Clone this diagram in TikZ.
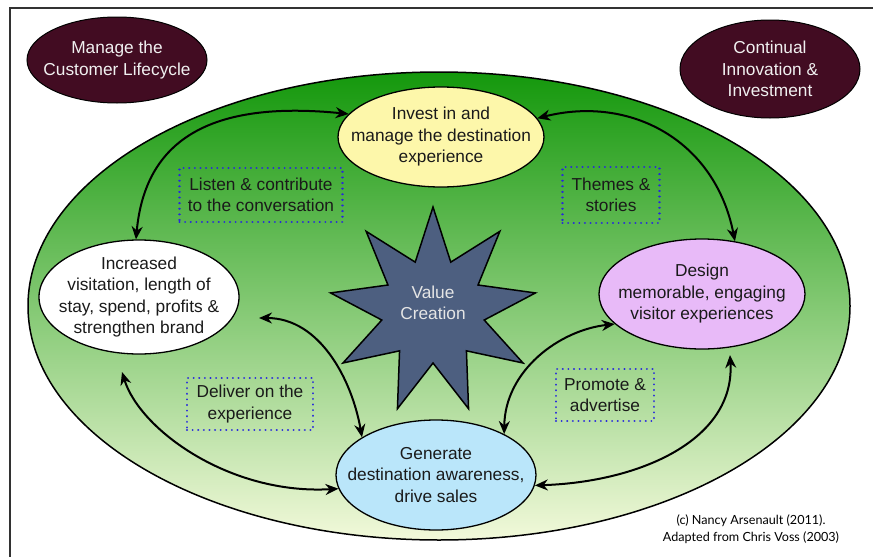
\documentclass[tikz,border=0pt]{standalone}
\usepackage{fontspec}
\setmainfont{Liberation Sans}
\newfontfamily\gillfont{Lato}
\usetikzlibrary{shapes.geometric,arrows.meta}
\definecolor{maroonc}{RGB}{66,12,34}
\definecolor{yellowc}{RGB}{253,247,170}
\definecolor{pinkc}{RGB}{232,186,248}
\definecolor{bluec}{RGB}{186,230,250}
\definecolor{starc}{RGB}{77,95,128}
\definecolor{greentop}{RGB}{20,152,12}
\definecolor{greenmid}{RGB}{125,203,95}
\definecolor{greenbot}{RGB}{242,249,218}
\definecolor{textc}{RGB}{26,26,26}
\definecolor{dotc}{RGB}{40,40,220}
\definecolor{framec}{RGB}{50,50,50}
\begin{document}
\begin{tikzpicture}[x=1pt,y=-1pt,
  font=\fontsize{17.3}{21.5}\selectfont,
  bub/.style={ellipse, draw=black, line width=1.3pt, inner sep=0pt},
  darkbub/.style={ellipse, draw=black, line width=1pt, fill=maroonc, inner sep=0pt},
  intext/.style={align=center, text=textc, inner sep=0pt},
  wtext/.style={align=center, text=white!94!black, inner sep=0pt},
  dotbox/.style={draw=dotc, line width=2.2pt, line cap=round, dash pattern=on 0.01pt off 5.6pt, align=center, inner sep=0pt, text=textc},
  arr/.style={{Stealth[length=13pt,width=11pt]}-{Stealth[length=13pt,width=11pt]}, line width=2pt, black}]
\useasboundingbox (0,0) rectangle (873,557);
\fill[white] (0,0) rectangle (873,557);
\draw[framec, line width=1.3pt] (10,557) -- (10,8) -- (873,8);
% big ellipse
\node[ellipse, draw=black, line width=1.5pt, minimum width=822pt, minimum height=468pt,
  top color=greentop, middle color=greenmid, bottom color=greenbot] (world) at (439,306) {};
% corner ellipses
\node[darkbub, minimum width=180pt, minimum height=86pt,
  label={[wtext]center:{Manage the\\Customer Lifecycle}}] (manage) at (117,60) {};
\node[darkbub, minimum width=180pt, minimum height=98pt,
  label={[wtext]center:{Continual\\Innovation \&\\Investment}}] (innov) at (770,69) {};
% main ellipses
\node[bub, fill=yellowc, minimum width=206pt, minimum height=100pt,
  label={[intext]center:{Invest in and\\manage the destination\\experience}}] (invest) at (441,137) {};
\node[bub, fill=white, minimum width=200pt, minimum height=114pt,
  label={[intext]center:{Increased\\visitation, length of\\stay, spend, profits \&\\strengthen brand}}] (incr) at (139,297) {};
\node[bub, fill=pinkc, minimum width=206pt, minimum height=110pt,
  label={[intext]center:{Design\\memorable, engaging\\visitor experiences}}] (design) at (702,294) {};
\node[bub, fill=bluec, minimum width=200pt, minimum height=110pt,
  label={[intext]center:{Generate\\destination awareness,\\drive sales}}] (gen) at (436,475) {};
% star
\node[star, star points=9, star point ratio=2, minimum size=208pt, inner sep=0pt, draw=black, line width=1.5pt, fill=starc] (star) at (433,311) {};
\node[align=center, text=white!90!black] (startext) at (433,303) {Value\\Creation};
% dotted boxes
\node[dotbox, minimum width=163pt, minimum height=54pt] (listen) at (261,195) {Listen \& contribute\\to the conversation};
\node[dotbox, minimum width=97pt, minimum height=56pt] (themes) at (611,195) {Themes \&\\stories};
\node[dotbox, minimum width=126pt, minimum height=52pt] (deliver) at (250,404) {Deliver on the\\experience};
\node[dotbox, minimum width=98pt, minimum height=52pt] (promote) at (605,395) {Promote \&\\advertise};
% arrows
\draw[arr] (incr.93) .. controls (145,140) and (210,100) .. (invest.166);
\draw[arr] (invest.11) .. controls (630,95) and (715,140) .. (design.58);
\draw[arr, shorten <=2pt] (257,318) .. controls (320,318) and (352,380) .. (gen.153);
\draw[arr] (gen.31) .. controls (505,370) and (560,330) .. (design.199);
\draw[arr] (122,372) .. controls (140,430) and (230,495) .. (gen.188);
\draw[arr] (gen.-6) .. controls (640,482) and (735,440) .. (730,355);
% credit
\node[font=\gillfont\fontsize{12.6}{17.5}\selectfont, align=center, text=black] (credit) at (751,529) {(c) Nancy Arsenault (2011).\\Adapted from Chris Voss (2003)};
\end{tikzpicture}
\end{document}
